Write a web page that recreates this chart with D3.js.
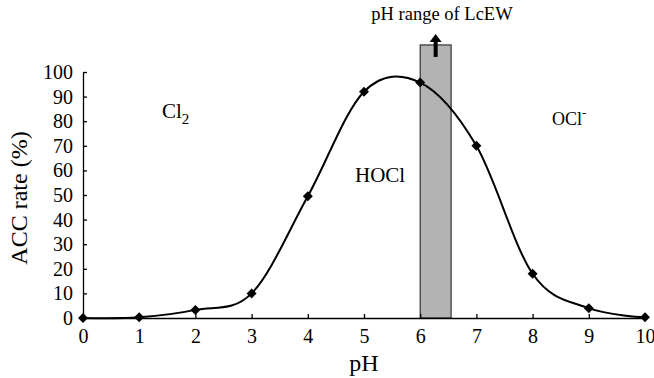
<!DOCTYPE html>
<html>
<head>
<meta charset="utf-8">
<script src="https://cdn.jsdelivr.net/npm/d3@7"></script>
<style>
  body { margin: 0; background: #fff; }
  svg { display: block; font-family: "Liberation Serif", "Times New Roman", serif; }
  .axis path, .axis line { stroke: #000; stroke-width: 1.3; }
  .axis text { font-size: 20px; fill: #000; font-family: "Liberation Serif", serif; }
</style>
</head>
<body>
<div id="chart"></div>
<script>
// ── Data ─────────────────────────────────────────────
const phValues  = [0, 1, 2, 3, 4, 5, 6, 7, 8, 9, 10];
const accRate   = [0, 0.3, 3.3, 10, 49.5, 92, 95.7, 70, 18, 4, 0.3];
const xTicks    = [0, 1, 2, 3, 4, 5, 6, 7, 8, 9, 10];
const yTicks    = [0, 10, 20, 30, 40, 50, 60, 70, 80, 90, 100];
const lcewRange = [6, 6.55];   // pH range of LcEW
const lcewTop   = 111;

// ── Layout ───────────────────────────────────────────
const W = 654, H = 378;
const margin = { top: 72, right: 9, bottom: 60, left: 83 };
const width  = W - margin.left - margin.right;
const height = H - margin.top - margin.bottom;

const svg = d3.select("#chart").append("svg")
  .attr("width", W)
  .attr("height", H);

const g = svg.append("g")
  .attr("transform", `translate(${margin.left},${margin.top})`);

const x = d3.scaleLinear().domain([0, 10]).range([0, width]);
const y = d3.scaleLinear().domain([0, 100]).range([height, 0]);

// LcEW band
g.append("rect")
  .attr("x", x(lcewRange[0]))
  .attr("y", y(lcewTop))
  .attr("width", x(lcewRange[1]) - x(lcewRange[0]))
  .attr("height", y(0) - y(lcewTop))
  .attr("fill", "#b3b3b3")
  .attr("stroke", "#333")
  .attr("stroke-width", 1.2);

// arrow inside the band
const ax = x((lcewRange[0] + lcewRange[1]) / 2);
g.append("line")
  .attr("x1", ax).attr("x2", ax)
  .attr("y1", y(lcewTop) + 12).attr("y2", y(lcewTop) - 4)
  .attr("stroke", "#000").attr("stroke-width", 4);
g.append("path")
  .attr("d", `M${ax - 6},${y(lcewTop) - 3} L${ax},${y(lcewTop) - 11} L${ax + 6},${y(lcewTop) - 3} Z`)
  .attr("fill", "#000");

// axes
g.append("g")
  .attr("class", "axis")
  .attr("transform", `translate(0,${height})`)
  .call(d3.axisBottom(x).tickValues(xTicks).tickSize(-4).tickSizeOuter(0).tickPadding(8))
  .call(s => s.selectAll("text").attr("dy", "0.85em"));

g.append("g")
  .attr("class", "axis")
  .call(d3.axisLeft(y).tickValues(yTicks).tickSize(-4).tickSizeOuter(0).tickPadding(10));

// curve
const data = phValues.map((p, i) => ({ ph: p, v: accRate[i] }));
const line = d3.line()
  .x(d => x(d.ph))
  .y(d => y(d.v))
  .curve(d3.curveCardinal.tension(0));

g.append("path")
  .datum(data)
  .attr("d", line)
  .attr("fill", "none")
  .attr("stroke", "#000")
  .attr("stroke-width", 2);

g.selectAll(".pt")
  .data(data)
  .join("path")
    .attr("class", "pt")
    .attr("transform", d => `translate(${x(d.ph)},${y(d.v)})`)
    .attr("d", "M0,-5 L5,0 L0,5 L-5,0 Z")
    .attr("fill", "#000");

// axis titles
svg.append("text")
  .attr("x", margin.left + x(5))
  .attr("y", 371)
  .attr("text-anchor", "middle")
  .attr("font-size", 24)
  .text("pH");

svg.append("text")
  .attr("transform", `translate(27,${margin.top + height / 2 + 3}) rotate(-90)`)
  .attr("text-anchor", "middle")
  .attr("font-size", 24)
  .text("ACC rate (%)");

// annotations
svg.append("text")
  .attr("x", 442).attr("y", 20)
  .attr("text-anchor", "middle")
  .attr("font-size", 18.5)
  .text("pH range of LcEW");

const cl2 = svg.append("text")
  .attr("x", 162).attr("y", 118)
  .attr("font-size", 21);
cl2.append("tspan").text("Cl");
cl2.append("tspan").attr("dy", 6).attr("font-size", 15).text("2");

svg.append("text")
  .attr("x", 355).attr("y", 182)
  .attr("font-size", 21)
  .text("HOCl");

const ocl = svg.append("text")
  .attr("x", 552).attr("y", 125)
  .attr("font-size", 18);
ocl.append("tspan").text("OCl");
ocl.append("tspan").attr("dy", -8).attr("font-size", 13).text("-");
</script>
</body>
</html>
